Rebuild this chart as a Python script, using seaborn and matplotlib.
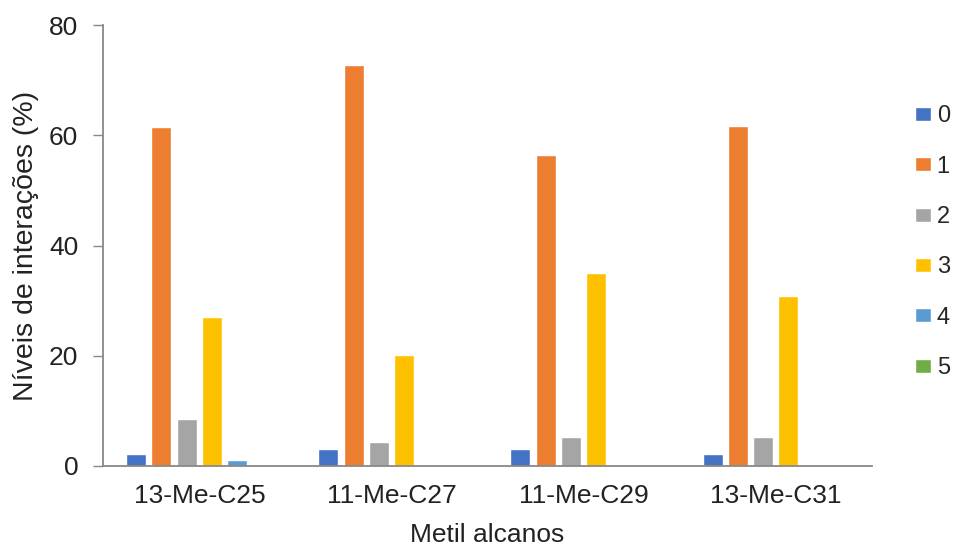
import matplotlib
matplotlib.use("Agg")
import matplotlib.pyplot as plt
import seaborn as sns
import pandas as pd

categories = ["13-Me-C25", "11-Me-C27", "11-Me-C29", "13-Me-C31"]
series_names = ["0", "1", "2", "3", "4", "5"]
s0 = [2.1, 3.0, 3.0, 2.1]
s1 = [61.5, 72.8, 56.5, 61.7]
s2 = [8.5, 4.3, 5.3, 5.3]
s3 = [27.0, 20.1, 35.0, 30.9]
s4 = [1.0, 0.0, 0.0, 0.0]
s5 = [0.0, 0.0, 0.0, 0.0]
yticks = [0, 20, 40, 60, 80]

colors = ["#4472C4", "#ED7D31", "#A5A5A5", "#FFC000", "#5B9BD5", "#70AD47"]

rows = []
for name, vals in zip(series_names, [s0, s1, s2, s3, s4, s5]):
    for c, v in zip(categories, vals):
        rows.append({"cat": c, "serie": name, "val": v})
df = pd.DataFrame(rows)

sns.set_theme(style="white")
plt.rcParams["font.family"] = ["Liberation Sans", "DejaVu Sans"]

fig = plt.figure(figsize=(9.56, 5.48), dpi=100)
ax = fig.add_axes([0.108, 0.150, 0.804, 0.804])

sns.barplot(data=df, x="cat", y="val", hue="serie", order=categories,
            hue_order=series_names, palette=colors, width=0.79, gap=0.21,
            saturation=1, errorbar=None, ax=ax, legend=True)

ax.set_xlim(-0.5, 3.5)
ax.set_ylim(0, 80)
ax.set_yticks(yticks)
ax.set_yticklabels([str(t) for t in yticks], fontsize=19, color="#222222")
ax.tick_params(axis="x", labelsize=19, colors="#222222", length=0, pad=13)
ax.tick_params(axis="y", length=7, width=1, color="#888888", direction="out", left=True, pad=11)
ax.set_xlabel("Metil alcanos", fontsize=19, color="#222222")
ax.set_ylabel("Níveis de interações (%)", fontsize=20.5, color="#222222")
ax.xaxis.set_label_coords(0.5, -0.158)
ax.yaxis.set_label_coords(-0.101, 0.5)
ax.xaxis.label.set_va("center")
ax.yaxis.label.set_va("center")

for s in ["top", "right"]:
    ax.spines[s].set_visible(False)
for s in ["left", "bottom"]:
    ax.spines[s].set_color("#888888")
    ax.spines[s].set_linewidth(1.3)

handles, labels = ax.get_legend_handles_labels()
ax.get_legend().remove()
fig.legend(handles, labels, loc="upper left", bbox_to_anchor=(0.947, 0.825),
           frameon=False, fontsize=17, handlelength=0.68, handleheight=0.55,
           handletextpad=0.25, labelspacing=1.2, borderaxespad=0)

fig.savefig("out.png", dpi=100)
